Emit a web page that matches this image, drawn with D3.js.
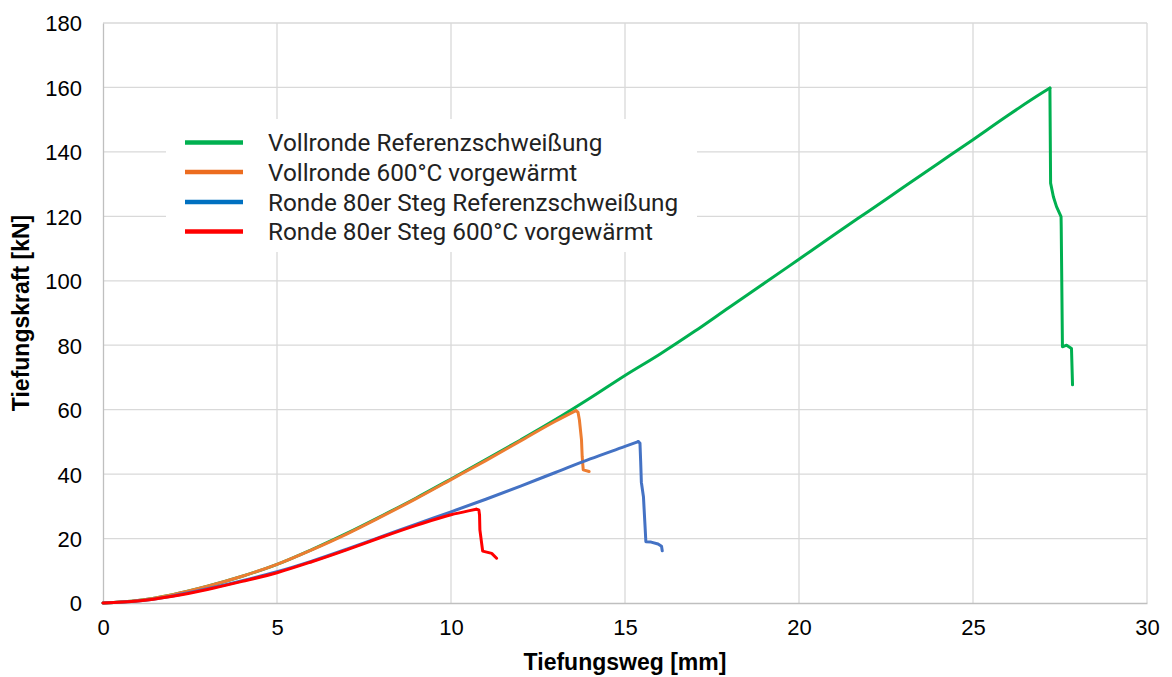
<!DOCTYPE html>
<html>
<head>
<meta charset="utf-8">
<script src="https://cdn.jsdelivr.net/npm/d3@7"></script>
<style>
  html, body { margin: 0; padding: 0; background: #fff; }
  svg { display: block; }
</style>
</head>
<body>
<svg id="chart" width="1172" height="677"></svg>
<script>
// Tiefungsversuch: Kraft über Weg für vier Ronden
const xTicks = [0, 5, 10, 15, 20, 25, 30];
const yTicks = [0, 20, 40, 60, 80, 100, 120, 140, 160, 180];

const seriesNames = [
  "Vollronde Referenzschweißung",
  "Vollronde 600°C vorgewärmt",
  "Ronde 80er Steg Referenzschweißung",
  "Ronde 80er Steg 600°C vorgewärmt"
];
const lineColors = ["#00b050", "#ed7d31", "#4472c4", "#ff0000"];
const legendColors = ["#00b050", "#ec6c1f", "#0070c0", "#ff0000"];

// Vollronde Referenzschweißung
const greenX = [0,1,2,3,4,5,6,7,8,9,10,11,12,13,14,15,16,17,18,19,20,21,22,23,24,25,26,27,27.21,27.22,27.23,27.31,27.4,27.53,27.535,27.57,27.69,27.83,27.86];
const greenY = [0,0.8,2.6,5.2,8.3,12.0,16.6,21.6,27.0,32.6,38.5,44.5,50.6,56.9,63.6,70.6,77.2,84.3,91.8,99.2,106.7,114.2,121.6,129.0,136.4,143.8,151.3,158.4,159.8,145,130.3,126.1,123,119.9,116.8,79.5,80.0,79.0,67.7];

// Vollronde 600°C vorgewärmt
const orangeX = [0,1,2,3,4,5,6,7,8,9,10,11,12,13,13.59,13.65,13.69,13.75,13.77,13.8,13.97];
const orangeY = [0,0.8,2.6,5.2,8.3,12.0,16.5,21.4,26.8,32.4,38.3,44.2,50.3,56.4,59.7,59.2,56.8,50.6,45.4,41.3,40.8];

// Ronde 80er Steg Referenzschweißung
const blueX = [0,1,2,3,4,5,6,7,8,9,10,11,12,13,14,15,15.38,15.43,15.45,15.47,15.53,15.57,15.6,15.75,15.95,16.05,16.07];
const blueY = [0,0.6,2.2,4.4,6.9,9.7,13.0,16.7,20.6,24.5,28.3,32.2,36.3,40.5,44.7,48.6,50.1,49.6,44,37.5,33,25,19.0,18.9,18.3,17.6,16.2];

// Ronde 80er Steg 600°C vorgewärmt
const redX = [0,1,2,3,4,5,6,7,8,9,10,10.5,10.73,10.8,10.82,10.83,10.91,11.17,11.31];
const redY = [0,0.6,2.1,4.2,6.7,9.4,12.8,16.5,20.4,24.1,27.4,28.6,29.1,28.9,27.3,22.7,16.1,15.4,13.9];

const seriesX = [greenX, orangeX, blueX, redX];
const seriesY = [greenY, orangeY, blueY, redY];

const svg = d3.select("#chart");
const margin = { left: 103, right: 25, top: 23, bottom: 74 };
const W = 1172, H = 677;

const x = d3.scaleLinear().domain([0, 30]).range([margin.left, W - margin.right]);
const y = d3.scaleLinear().domain([0, 180]).range([H - margin.bottom, margin.top]);

const tickFont = "'Liberation Sans', Arial, sans-serif";

// Gitternetz
const grid = svg.append("g");
grid.selectAll("line.h").data(yTicks.filter(d => d > 0)).join("line")
  .attr("x1", x(0)).attr("x2", x(30))
  .attr("y1", d => y(d)).attr("y2", d => y(d))
  .attr("stroke", "#d9d9d9").attr("stroke-width", 1.3);
grid.selectAll("line.v").data(xTicks.filter(d => d > 0)).join("line")
  .attr("x1", d => x(d)).attr("x2", d => x(d))
  .attr("y1", y(0)).attr("y2", y(180))
  .attr("stroke", "#d9d9d9").attr("stroke-width", 1.3);

// Achsen
const xAxis = d3.axisBottom(x).tickValues(xTicks).tickSize(0).tickPadding(16);
const yAxis = d3.axisLeft(y).tickValues(yTicks).tickSize(0).tickPadding(21);

const gx = svg.append("g").attr("transform", `translate(0,${y(0)})`).call(xAxis);
const gy = svg.append("g").attr("transform", `translate(${x(0)},0)`).call(yAxis);
[gx, gy].forEach(g => {
  g.select(".domain").attr("stroke", "#bfbfbf").attr("stroke-width", 1.3);
  g.selectAll("text").attr("font-family", tickFont).attr("font-size", 22).attr("fill", "#000");
});
gy.selectAll("text").attr("dy", "0.36em");

// Legende (weißer Kasten über dem Gitter)
const legend = svg.append("g");
legend.append("rect")
  .attr("x", 166).attr("y", 119).attr("width", 531).attr("height", 133)
  .attr("fill", "#fff");

// Kurven: Anstieg geglättet bis zum Maximum, danach der Abfall als Polylinie
const riseLine = d3.line().x(d => x(d[0])).y(d => y(d[1])).curve(d3.curveMonotoneX);
const dropLine = d3.line().x(d => x(d[0])).y(d => y(d[1])).curve(d3.curveLinear);
seriesX.forEach((xs, i) => {
  const pts = xs.map((v, k) => [v, seriesY[i][k]]);
  const peak = d3.maxIndex(seriesY[i]);
  const g = svg.append("g")
    .attr("fill", "none")
    .attr("stroke", lineColors[i])
    .attr("stroke-width", 3)
    .attr("stroke-linejoin", "round")
    .attr("stroke-linecap", "round");
  g.append("path").datum(pts.slice(0, peak + 1)).attr("d", riseLine);
  g.append("path").datum(pts.slice(peak)).attr("d", dropLine);
});

const rowY = [142.5, 172, 202, 231.5];
seriesNames.forEach((name, i) => {
  legend.append("line")
    .attr("x1", 185).attr("x2", 243)
    .attr("y1", rowY[i]).attr("y2", rowY[i])
    .attr("stroke", legendColors[i]).attr("stroke-width", 4.5);
  legend.append("text")
    .attr("x", 268).attr("y", rowY[i])
    .attr("dy", "0.36em")
    .attr("font-family", "Roboto, sans-serif")
    .attr("font-size", 24.3)
    .attr("fill", "#222")
    .text(name);
});

// Achsentitel
svg.append("text")
  .attr("x", (x(0) + x(30)) / 2).attr("y", 670)
  .attr("text-anchor", "middle")
  .attr("font-family", tickFont).attr("font-weight", "bold").attr("font-size", 23)
  .attr("fill", "#000")
  .text("Tiefungsweg [mm]");
svg.append("text")
  .attr("transform", `translate(29,${(y(0) + y(180)) / 2}) rotate(-90)`)
  .attr("text-anchor", "middle")
  .attr("font-family", tickFont).attr("font-weight", "bold").attr("font-size", 23)
  .attr("fill", "#000")
  .text("Tiefungskraft [kN]");
</script>
</body>
</html>
